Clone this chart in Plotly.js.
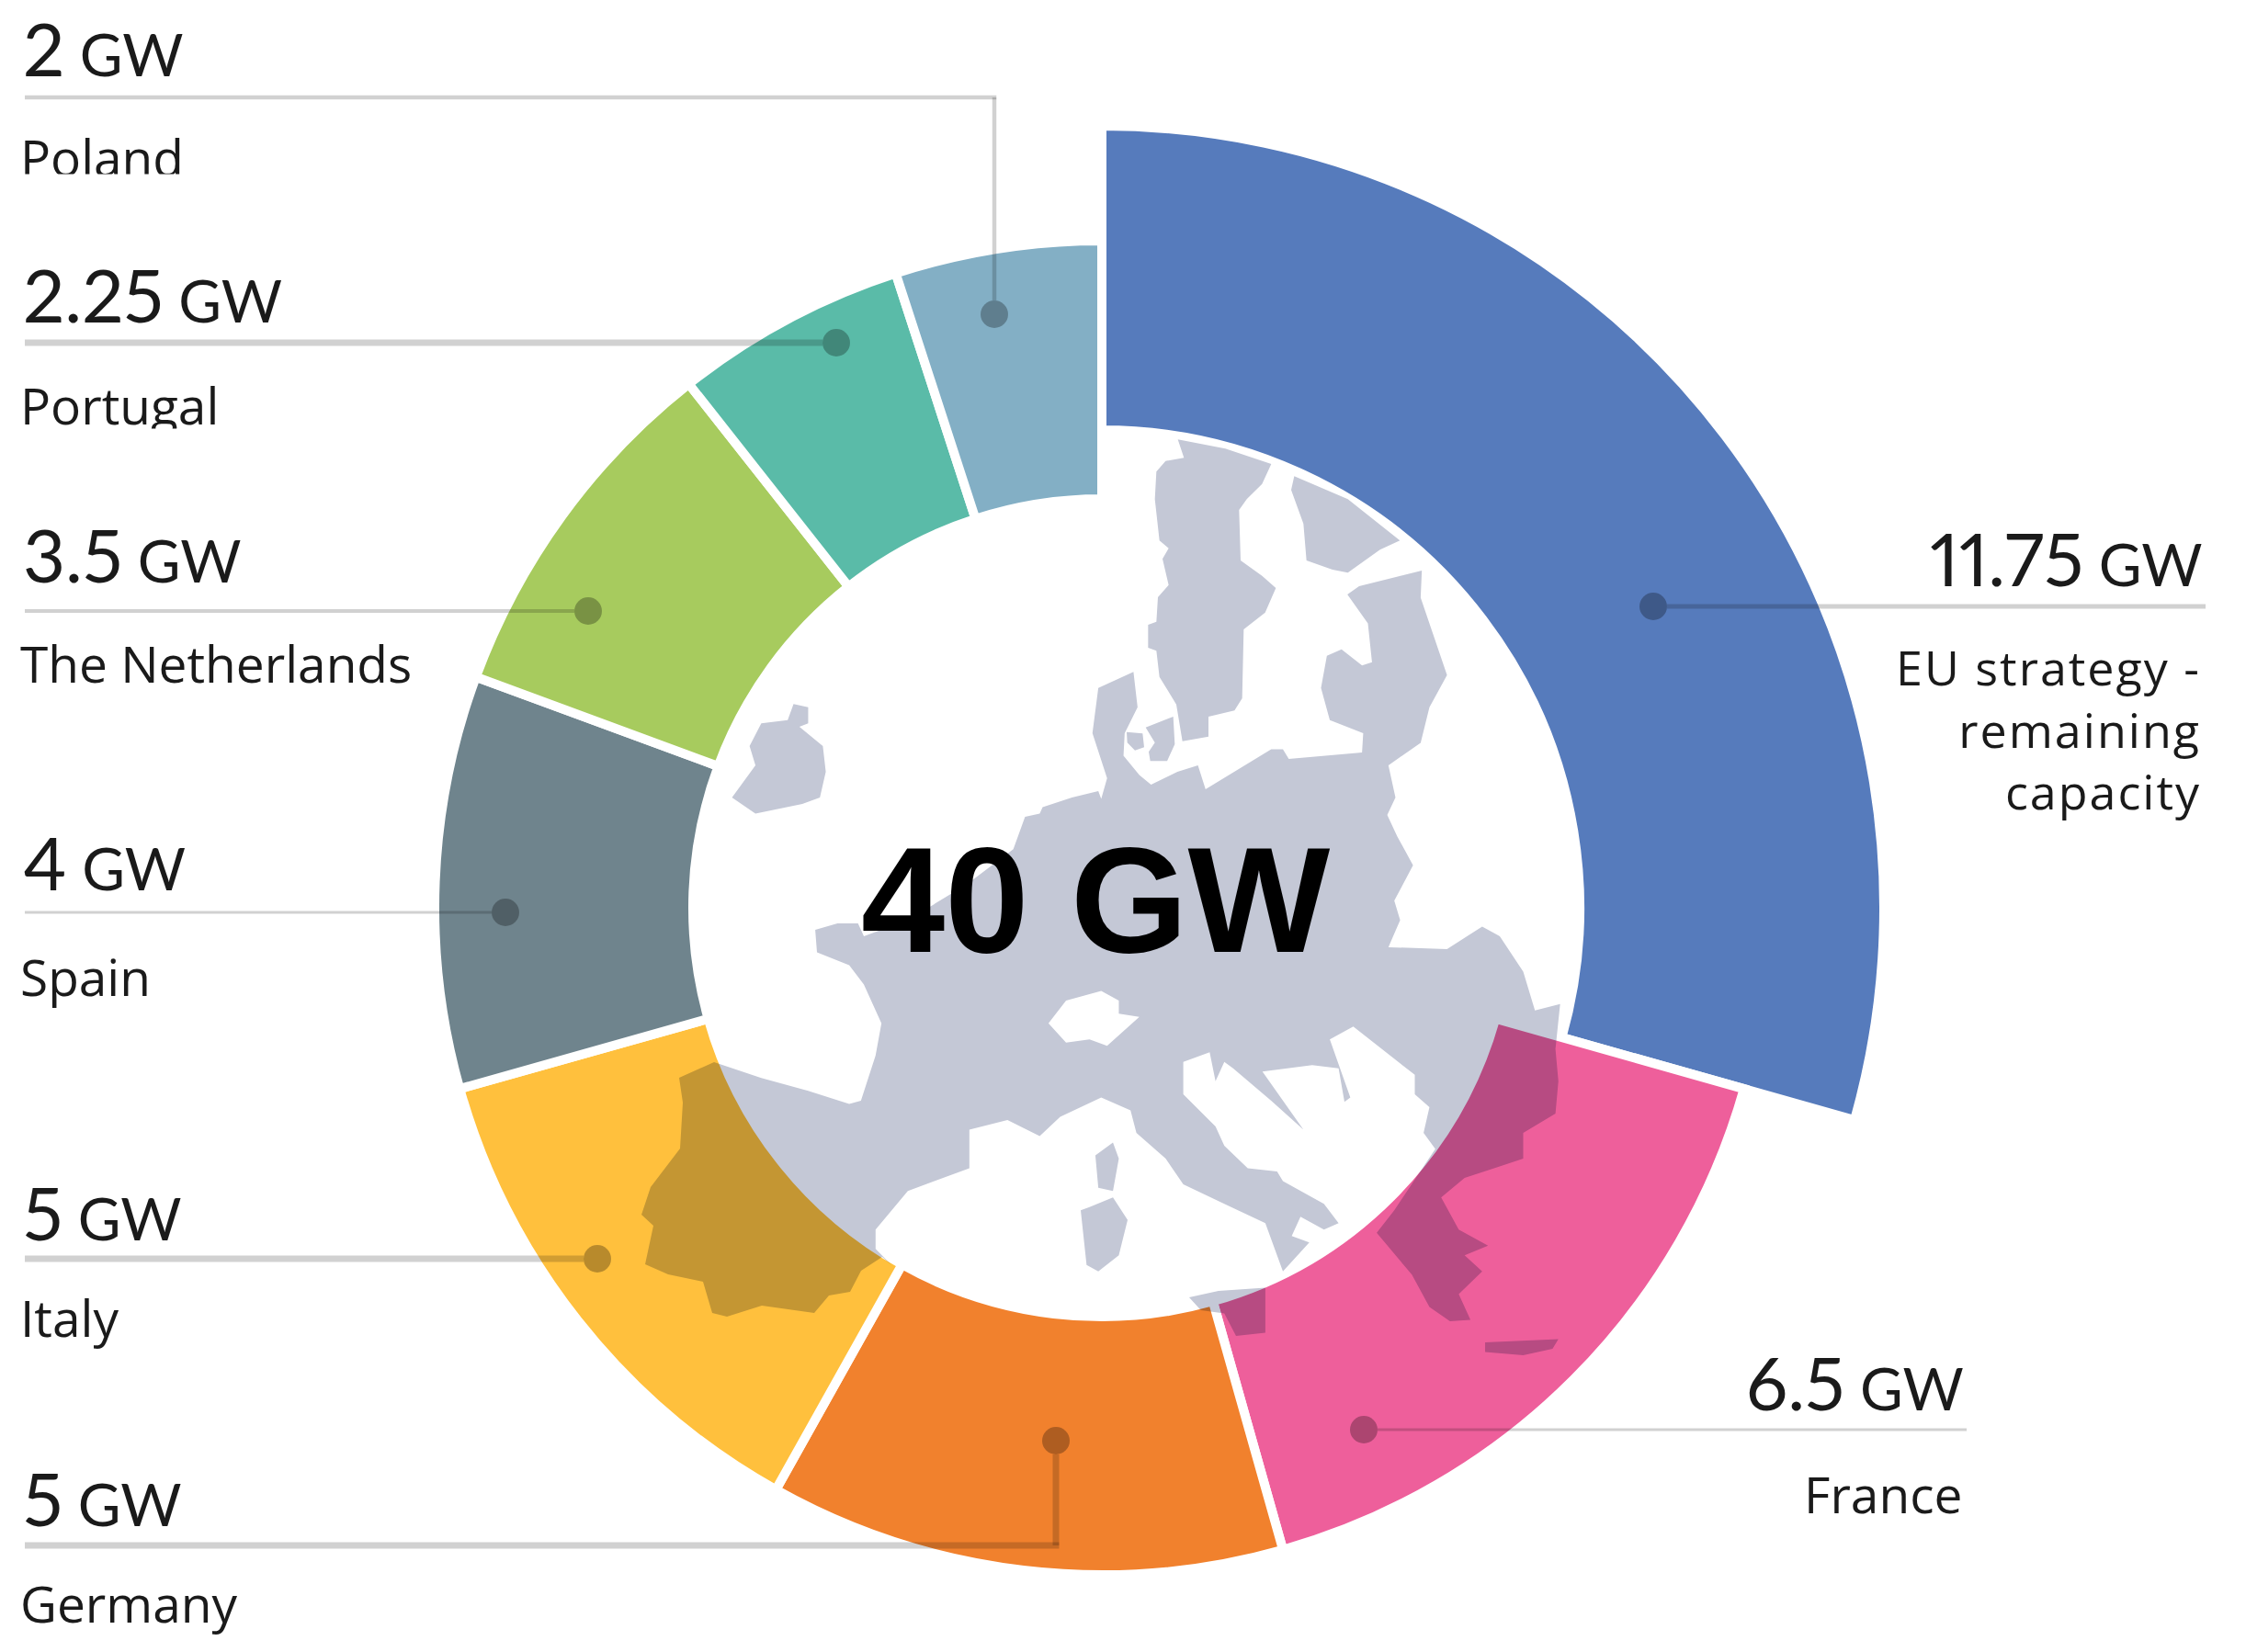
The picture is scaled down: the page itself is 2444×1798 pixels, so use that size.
<!DOCTYPE html>
<html>
<head>
<meta charset="utf-8">
<script src="https://cdn.plot.ly/plotly-3.0.1.min.js"></script>
<style>
html, body { margin: 0; padding: 0; background: #fff; height: 1798px; overflow: hidden; }
</style>
</head>
<body>
<div id="chart"></div>
<script>
const categories = ['EU strategy - remaining capacity', 'France', 'Germany', 'Italy', 'Spain', 'The Netherlands', 'Portugal', 'Poland'];
const capacityGW = [11.75, 6.5, 5, 5, 4, 3.5, 2.25, 2];
const valueLabels = ['11.75', '6.5', '5', '5', '4', '3.5', '2.25', '2'];
const sliceColors = ['#567bbc', '#ee5f9b', '#f1812d', '#ffc03d', '#6f848d', '#a7cb5e', '#5abba8', '#83afc5'];

// page is taller than the window so the big slice fits in the polar domain
const W = 2444;
const H = 1900;
const cx = 1199;
const cy = 988;
const rMax = 855;
const gap = 10;

const px = x => x / W;
const py = y => 1 - y / H;

// slice angles from the values, clockwise from 12 o'clock
const total = capacityGW.reduce((a, b) => a + b, 0);
let running = 0;
const theta = capacityGW.map(v => {
    const mid = running + v / 2;
    running += v;
    return mid / total * 360;
});
const widths = capacityGW.map(v => v / total * 360);

const inner = categories.map((c, i) => i === 0 ? 525 : 450);
const outer = categories.map((c, i) => i === 0 ? 846 : 721);

const donut = {
    type: 'barpolar',
    theta: theta,
    width: widths,
    base: inner.map(r => r - gap / 2),
    r: outer.map((r, i) => r - inner[i] + gap),
    text: categories,
    marker: { color: sliceColors, line: { color: '#fff', width: gap } },
    hoverinfo: 'skip',
    showlegend: false
};

// label rows: x of the text, baselines of number and name
const labelX = [2400, 2140, 27, 27, 27, 27, 27, 27];
const numberBase = [638, 1535, 1661, 1350, 969, 634, 351, 83];
const nameBase = [881, 1647, 1766, 1455, 1084, 743, 462, 192];
// leader lines
const leaderY = [660, 1556, 1682, 1370, 993, 665, 373, 106];
const dotX = [1799, 1484, 1149, 650, 550, 640, 910, 1082];
const dotY = [660, 1556, 1568, 1370, 993, 665, 373, 342];
const leaderW = [5, 3, 7, 7, 3, 4, 7, 4.5];
const dotR = 15;

const numberSize = 80;
const unitSize = 64;
const nameSize = 55;
const euNameSize = 52;
const numberFont = 'Lato, sans-serif';
const nameFont = '"Open Sans", sans-serif';

const annotations = [];
const shapes = [];

const addText = (x, baseline, text, size, anchor, family, descent, color) => {
    annotations.push({
        xref: 'paper', yref: 'paper',
        x: px(x), y: py(baseline + size * descent + 1),
        xanchor: anchor, yanchor: 'bottom',
        text: text, showarrow: false, align: anchor,
        borderpad: 0,
        font: { family: family, size: size, color: color || '#1a1a1a' }
    });
};

const hLine = (x0, x1, y, w) => shapes.push({
    type: 'line', xref: 'paper', yref: 'paper', layer: 'above',
    x0: px(x0), x1: px(x1), y0: py(y), y1: py(y),
    line: { color: 'rgba(0,0,0,0.18)', width: w }
});
const vLine = (x, y0, y1, w) => shapes.push({
    type: 'line', xref: 'paper', yref: 'paper', layer: 'above',
    x0: px(x), x1: px(x), y0: py(y0), y1: py(y1),
    line: { color: 'rgba(0,0,0,0.18)', width: w }
});

categories.forEach((c, i) => {
    const right = labelX[i] > 1200;
    const anchor = right ? 'right' : 'left';
    addText(labelX[i] - (right ? 2 : 3), numberBase[i],
        '<span style="font-variant-numeric:proportional-nums;font-feature-settings:\'pnum\'">' + valueLabels[i] + '</span>' +
        '<span style="font-size:' + unitSize + 'px"> GW</span>',
        numberSize, anchor, numberFont, 0.213);

    if (i === 0) {
        // three right aligned lines, spaced out a little to keep the original width
        const wrapped = ['EU strategy -', 'remaining', 'capacity']
            .map(t => '<span style="letter-spacing:2px">' + t + '</span>').join('<br>');
        addText(labelX[i] - 4, nameBase[i], wrapped, euNameSize, anchor, nameFont, 0.293);
    } else {
        addText(labelX[i] - (right ? 4 : 6), nameBase[i], c, nameSize, anchor, nameFont, 0.293);
    }

    if (dotY[i] === leaderY[i]) {
        if (right) hLine(dotX[i] + dotR, labelX[i], leaderY[i], leaderW[i]);
        else hLine(labelX[i], dotX[i] - dotR, leaderY[i], leaderW[i]);
    } else {
        hLine(labelX[i], dotX[i] + leaderW[i] / 2, leaderY[i], leaderW[i]);
        const toDot = dotY[i] > leaderY[i] ? dotY[i] - dotR : dotY[i] + dotR;
        vLine(dotX[i], leaderY[i], toDot, leaderW[i]);
    }
    shapes.push({
        type: 'circle', xref: 'paper', yref: 'paper', layer: 'above',
        x0: px(dotX[i] - dotR), x1: px(dotX[i] + dotR), y0: py(dotY[i] - dotR), y1: py(dotY[i] + dotR),
        fillcolor: 'rgba(0,0,0,0.28)', line: { width: 0 }
    });
});

// cut off the bottom of the two labels, as in the original
annotations.push({
    xref: 'paper', yref: 'paper', x: px(0), y: py(189), xanchor: 'left', yanchor: 'top',
    text: ' ', showarrow: false, width: 400, height: 40, bgcolor: '#fff', borderpad: 0
});
annotations.push({
    xref: 'paper', yref: 'paper', x: px(0), y: py(466), xanchor: 'left', yanchor: 'top',
    text: ' ', showarrow: false, width: 400, height: 40, bgcolor: '#fff', borderpad: 0
});

addText(1192, 1036, '<b>40 GW</b>', 164, 'center', '"Liberation Sans", Arial, sans-serif', 0.212, '#000');

const fromCropA = ([x, y]) => [720 + x / 1.568, 440 + y / 1.425];
const fromCropB = ([x, y]) => [1200 + x / 3, 400 + y / 3];

const mainland = [
    [262, 815], [300, 805], [335, 805], [345, 825], [420, 800], [520, 745], [600, 690], [620, 640], [645, 635], [650, 625],
    [700, 610], [745, 600], [750, 612], [760, 580], [735, 510], [745, 440], [805, 415], [812, 470], [790, 510], [788, 545],
    [815, 575], [835, 590], [880, 570], [915, 560], [928, 597], [1040, 535], [1060, 535], [1070, 550], [1195, 540], [1197, 510],
    [1140, 490], [1125, 440], [1135, 390], [1160, 380], [1195, 405], [1212, 400], [1205, 340], [1170, 295], [1190, 282], [1297, 258],
    [1295, 300], [1340, 420], [1310, 470], [1295, 525], [1240, 560], [1252, 610], [1238, 637], [1255, 670], [1282, 715], [1250, 770],
    [1260, 800], [1240, 842], [1340, 845], [1400, 810], [1430, 825], [1470, 880], [1490, 940], [1533, 930], [1525, 1000], [1530, 1050],
    [1525, 1100], [1470, 1130], [1470, 1170], [1370, 1200], [1330, 1230], [1360, 1280], [1410, 1305], [1370, 1320], [1400, 1345], [1360, 1380],
    [1380, 1420], [1345, 1422], [1310, 1400], [1280, 1350], [1220, 1285], [1250, 1250], [1320, 1155], [1300, 1130], [1310, 1090], [1285, 1070],
    [1285, 1040], [1180, 965], [1140, 985], [1175, 1075], [1165, 1082], [1155, 1030], [1110, 1025], [1025, 1035], [1095, 1125], [1040, 1080],
    [975, 1030], [960, 1020], [945, 1050], [935, 1005], [890, 1020], [890, 1070], [945, 1120], [960, 1150], [1000, 1185], [1050, 1190],
    [1060, 1205], [1130, 1240], [1155, 1270], [1130, 1280], [1090, 1260], [1075, 1290], [1105, 1300], [1060, 1345], [1030, 1270], [960, 1240],
    [890, 1210], [860, 1170], [810, 1130], [800, 1095], [750, 1075], [680, 1105], [645, 1135], [590, 1110], [525, 1125], [525, 1185],
    [420, 1220], [365, 1280], [365, 1310], [392, 1335]
].map(fromCropA);

const iberia = [
    [960, 1368], [937, 1383], [925, 1406], [902, 1410], [886, 1429], [829, 1421], [791, 1433], [775, 1429], [765, 1395], [727, 1387],
    [702, 1376], [711, 1334], [698, 1322], [708, 1292], [740, 1250], [743, 1200], [739, 1173], [777, 1156]
];

const biscay = [
    [170, 1045], [250, 1065], [320, 1085], [340, 1080], [365, 1010], [375, 960], [345, 900], [320, 870], [265, 850]
].map(fromCropA);

const sweden = [
    [245, 235], [400, 265], [550, 315], [520, 380], [470, 430], [445, 465], [450, 630], [520, 680], [565, 720], [530, 800],
    [460, 855], [455, 1080], [430, 1120], [345, 1140], [345, 1205], [260, 1220], [240, 1100], [185, 1010], [175, 925], [148, 915],
    [148, 840], [175, 830], [180, 750], [215, 710], [195, 625], [215, 590], [185, 565], [170, 430], [175, 340], [205, 305], [265, 295]
].map(fromCropB);

const lapland = [
    [625, 355], [800, 430], [970, 565], [905, 595], [800, 670], [750, 660], [665, 630], [655, 510], [615, 400]
].map(fromCropB);

const zealand = [[140, 1175], [230, 1140], [235, 1230], [210, 1285], [155, 1285], [150, 1255], [170, 1225]].map(fromCropB);
const funen = [[78, 1190], [130, 1195], [135, 1240], [105, 1250], [80, 1225]].map(fromCropB);
const ireland = [
    [225, 465], [250, 470], [250, 495], [235, 500], [275, 530], [280, 570], [270, 610], [240, 620], [160, 635], [120, 610], [160, 560], [150, 530], [170, 495], [215, 490]
].map(fromCropA);
const corsica = [[770, 1145], [780, 1170], [770, 1220], [745, 1215], [740, 1165]].map(fromCropA);
const sardinia = [[730, 1245], [770, 1230], [795, 1265], [780, 1320], [745, 1345], [725, 1335], [715, 1250]].map(fromCropA);
const sicily = [[900, 1385], [950, 1375], [1030, 1370], [1030, 1440], [980, 1445], [960, 1410], [920, 1405]].map(fromCropA);
const crete = [[1405, 1455], [1530, 1450], [1520, 1465], [1470, 1475], [1405, 1470]].map(fromCropA);
const switzerland = [[660, 960], [690, 925], [750, 910], [780, 925], [780, 945], [815, 950], [760, 995], [730, 985], [690, 990]].map(fromCropA);

const outlines = [mainland.concat(iberia, biscay), sweden, lapland, zealand, funen, ireland, corsica, sardinia, sicily, crete, switzerland];
const mapPath = outlines.map(o => 'M' + o.map(p => px(p[0]) + ',' + py(p[1])).join('L') + 'Z').join(' ');

shapes.unshift({
    type: 'path', xref: 'paper', yref: 'paper', layer: 'above',
    path: mapPath, fillrule: 'evenodd',
    fillcolor: '#c4c8d6', line: { width: 0 }
});

const layout = {
    width: W,
    height: H,
    margin: { l: 0, r: 0, t: 0, b: 0 },
    paper_bgcolor: '#fff',
    showlegend: false,
    polar: {
        domain: {
            x: [px(cx - rMax), px(cx + rMax)],
            y: [py(cy + rMax), py(cy - rMax)]
        },
        bgcolor: 'rgba(0,0,0,0)',
        radialaxis: { visible: false, range: [0, rMax] },
        angularaxis: { visible: false, direction: 'clockwise', rotation: 90 }
    },
    annotations: annotations,
    shapes: shapes
};

Plotly.newPlot('chart', [donut], layout, { displayModeBar: false, staticPlot: true }).then(gd => {
    // the map darkens the slices it lies on, so multiply the top layer onto them
    const top = gd.querySelector('.infolayer').closest('svg');
    top.style.mixBlendMode = 'multiply';
});
</script>
</body>
</html>
